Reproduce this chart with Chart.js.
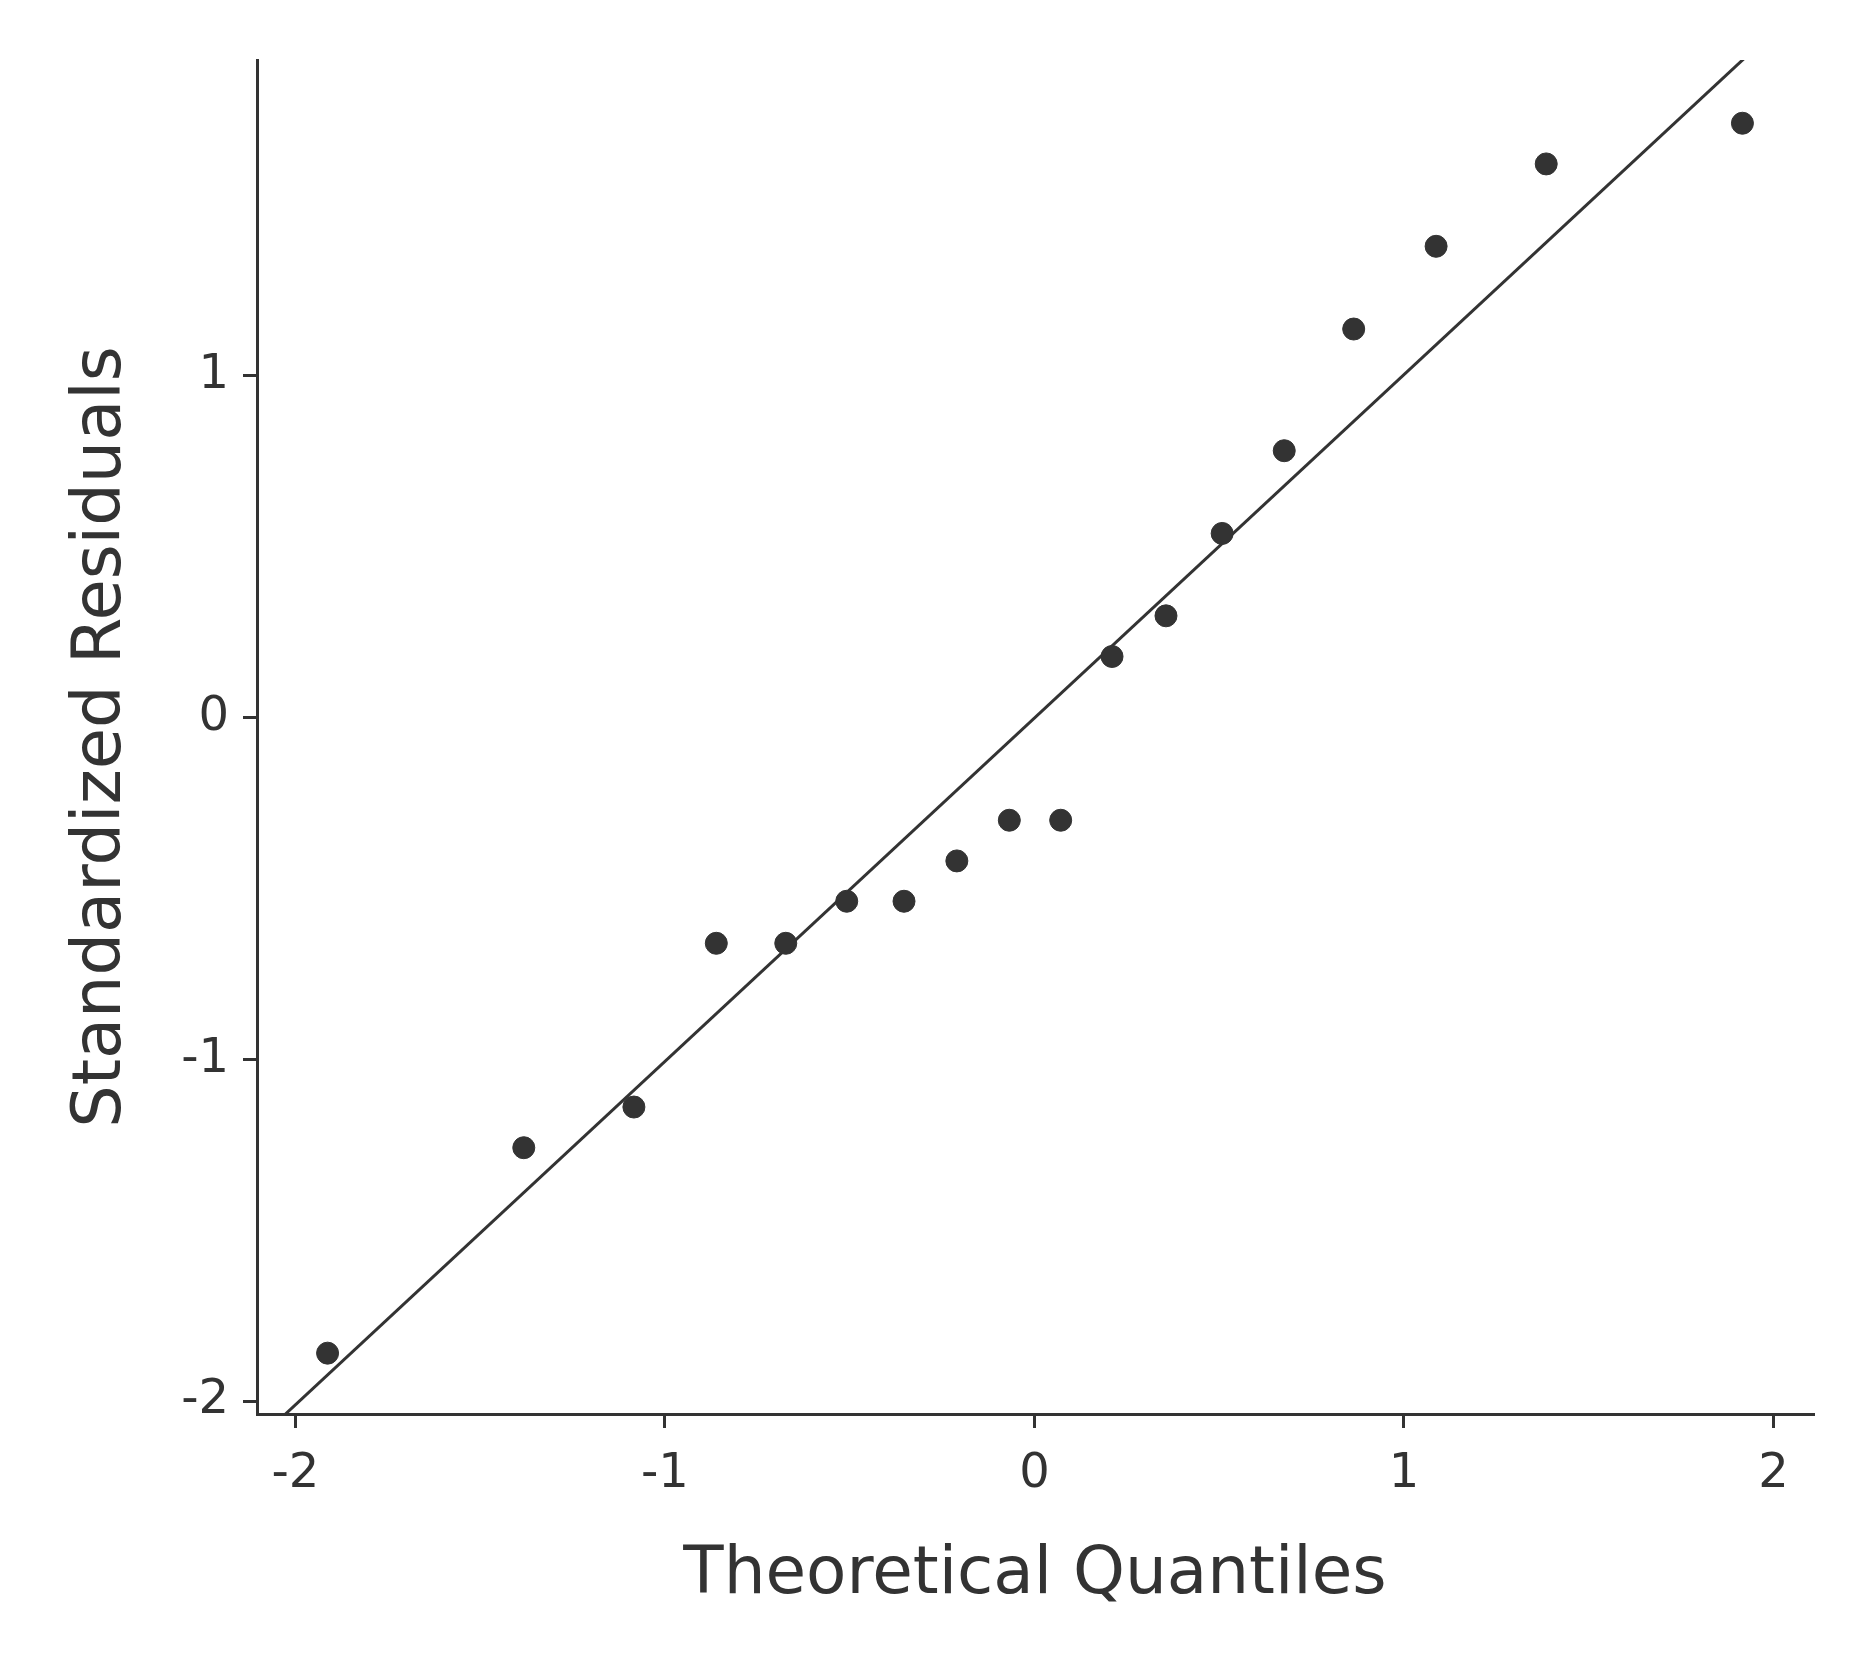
<!DOCTYPE html>
<html><head><meta charset="utf-8">
<script src="https://cdn.jsdelivr.net/npm/chart.js@4"></script>
<style>html,body{margin:0;background:#fff}</style></head>
<body><canvas id="c" width="1875" height="1667"></canvas>
<script>
const theoretical = [-1.913,-1.382,-1.084,-0.861,-0.673,-0.508,-0.353,-0.210,-0.068,0.071,0.210,0.356,0.508,0.676,0.864,1.087,1.385,1.916];
const residuals = [-1.860,-1.259,-1.140,-0.661,-0.661,-0.538,-0.538,-0.420,-0.301,-0.301,0.178,0.297,0.538,0.780,1.136,1.378,1.619,1.738];
const refLineX = [-2.2, 2.2];
const refLineY = [-2.212, 2.208];
const xTicks = [-2,-1,0,1,2];
const yTicks = [-2,-1,0,1];
const C = '#333333';
new Chart(document.getElementById('c'), {
  type: 'scatter',
  data: { datasets: [
    { data: theoretical.map((x,i)=>({x, y: residuals[i]})), backgroundColor: C, borderColor: C, pointRadius: 11, pointHoverRadius: 11 },
    { type: 'line', data: refLineX.map((x,i)=>({x, y: refLineY[i]})), borderColor: C, borderWidth: 3, pointRadius: 0, fill: false }
  ]},
  options: {
    responsive: false, animation: false,
    layout: { padding: { top: 60, right: 62, left: 58, bottom: 48 } },
    plugins: { legend: { display: false }, tooltip: { enabled: false } },
    scales: {
      x: { type: 'linear', min: -2.104, max: 2.107,
        afterBuildTicks: s => { s.ticks = xTicks.map(v=>({value:v})); },
        afterFit: s => { s.height = 205; },
        grid: { drawOnChartArea: false, drawTicks: true, tickLength: 14, color: C, lineWidth: 3 },
        border: { display: true, color: C, width: 3 },
        ticks: { color: C, font: { family: 'DejaVu Sans', size: 48 }, padding: 18 },
        title: { display: true, text: 'Theoretical Quantiles', color: C, font: { family: 'DejaVu Sans', size: 66 }, padding: { top: 10 } } },
      y: { type: 'linear', min: -2.038, max: 1.923,
        afterBuildTicks: s => { s.ticks = yTicks.map(v=>({value:v})); },
        afterFit: s => { s.width = 199; },
        grid: { drawOnChartArea: false, drawTicks: true, tickLength: 14, color: C, lineWidth: 3 },
        border: { display: true, color: C, width: 3 },
        ticks: { color: C, font: { family: 'DejaVu Sans', size: 48 }, padding: 14 },
        title: { display: true, text: 'Standardized Residuals', color: C, font: { family: 'DejaVu Sans', size: 67 }, padding: { bottom: 10 } } }
    }
  }
});
</script></body></html>
